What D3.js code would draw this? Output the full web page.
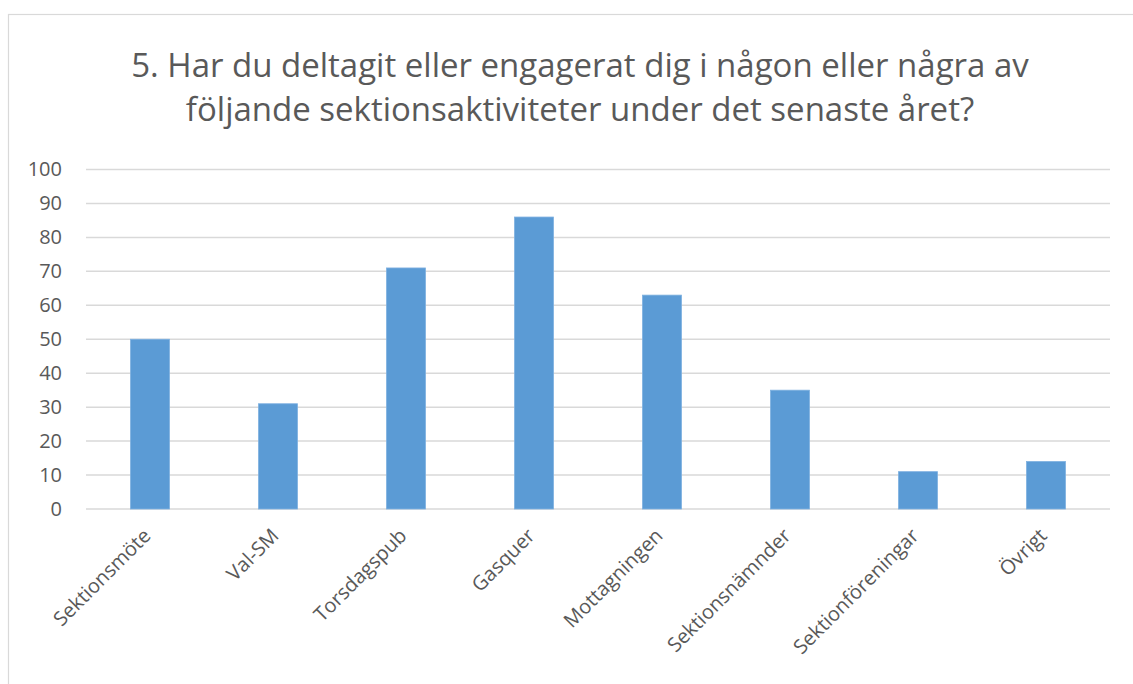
<!DOCTYPE html>
<html>
<head>
<meta charset="utf-8">
<script src="https://cdn.jsdelivr.net/npm/d3@7"></script>
<style>
  body { margin: 0; background: #fff; }
  svg, svg text { font-family: "Open Sans", "Noto Sans", sans-serif; }
  svg { display: block; }
</style>
</head>
<body>
<div id="chart"></div>
<script>
// question 5 - activity participation
const categories = ['Sektionsmöte', 'Val-SM', 'Torsdagspub', 'Gasquer', 'Mottagningen', 'Sektionsnämnder', 'Sektionföreningar', 'Övrigt'];
const values = [50, 31, 71, 86, 63, 35, 11, 14];
const yTicks = [0, 10, 20, 30, 40, 50, 60, 70, 80, 90, 100];
const titleLines = ['5. Har du deltagit eller engagerat dig i någon eller några av', 'följande sektionsaktiviteter under det senaste året?'];

const W = 1133, H = 684;
const M = { top: 169.5, right: 23, bottom: 175, left: 86 };
const TEXT = '#595959', GRID = '#d9d9d9', BAR = '#5b9bd5';

const svg = d3.select('#chart').append('svg').attr('width', W).attr('height', H);

// chart frame
svg.append('rect').attr('x', 8.5).attr('y', 14.5).attr('width', W + 20).attr('height', H + 20)
  .attr('fill', 'none').attr('stroke', GRID).attr('stroke-width', 1.2);

const x = d3.scaleBand().domain(categories).range([M.left, W - M.right]).paddingInner(0.695).paddingOuter(0.3475);
const y = d3.scaleLinear().domain([0, 100]).range([H - M.bottom, M.top]);

// gridlines
svg.append('g').selectAll('line').data(yTicks).join('line')
  .attr('x1', M.left).attr('x2', W - M.right)
  .attr('y1', d => y(d)).attr('y2', d => y(d))
  .attr('stroke', GRID).attr('stroke-width', 1.5);

// y axis labels
const yAxis = svg.append('g').attr('transform', `translate(${M.left},0)`)
  .call(d3.axisLeft(y).tickValues(yTicks).tickSize(0).tickPadding(24))
  .attr('font-family', null);
yAxis.select('.domain').remove();
yAxis.selectAll('text').attr('fill', TEXT).style('font-size', '20px');

// bars
svg.append('g').selectAll('rect').data(values).join('rect')
  .attr('x', (d, i) => x(categories[i]))
  .attr('y', d => y(d))
  .attr('width', x.bandwidth())
  .attr('height', d => y(0) - y(d))
  .attr('fill', BAR).attr('stroke', '#7fb1e0').attr('stroke-width', 0.8);

// x axis labels
const xAxis = svg.append('g').attr('transform', `translate(0,${y(0)})`)
  .call(d3.axisBottom(x).tickSize(0).tickPadding(0))
  .attr('font-family', null);
xAxis.select('.domain').remove();
xAxis.selectAll('text')
  .attr('fill', TEXT).style('font-size', '20px')
  .attr('text-anchor', 'end').attr('dy', null)
  .attr('transform', 'translate(2,28) rotate(-45)');

// title
svg.append('text').attr('x', 580).attr('y', 77)
  .attr('text-anchor', 'middle').attr('fill', TEXT).style('font-size', '33px')
  .selectAll('tspan').data(titleLines).join('tspan')
  .attr('x', 580).attr('dy', (d, i) => i ? 44 : 0).text(d => d);
</script>
</body>
</html>
